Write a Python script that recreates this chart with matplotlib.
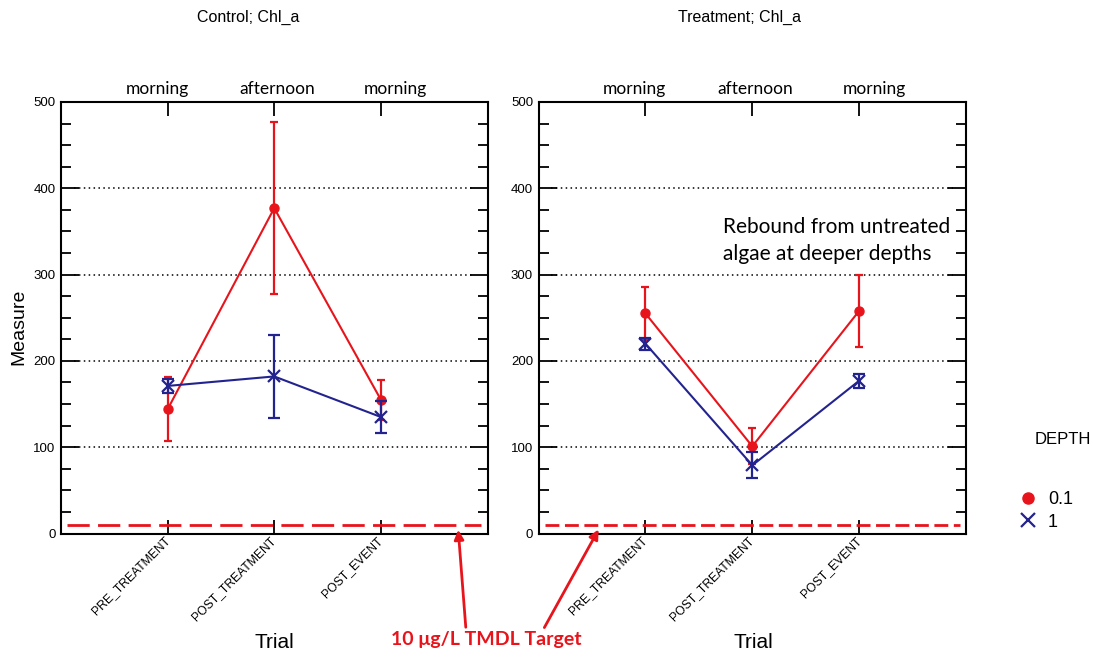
import matplotlib
matplotlib.use("Agg")
import matplotlib.pyplot as plt
from matplotlib.lines import Line2D
from matplotlib.patches import FancyArrowPatch
from matplotlib.ticker import MultipleLocator
import matplotlib.transforms as mtrans

# ---- data ----
categories = ['PRE_TREATMENT', 'POST_TREATMENT', 'POST_EVENT']
time_labels = ['morning', 'afternoon', 'morning']
panel_titles = ['Control; Chl_a', 'Treatment; Chl_a']

control_d01 = [144, 377, 155]
control_d01_err = [37, 100, 23]
control_d1 = [171, 182, 135]
control_d1_err = [8, 48, 19]

treat_d01 = [255, 101, 258]
treat_d01_err = [31, 21, 42]
treat_d1 = [220, 79, 177]
treat_d1_err = [7, 15, 8]

tmdl_target = 10
depth_labels = ['0.1', '1']

RED = '#e8141c'
BLUE = '#23238f'
NARROW = ['Liberation Sans Narrow', 'Liberation Sans', 'DejaVu Sans']
CAL = ['Lato', 'DejaVu Sans']

W, H = 1093, 666
fig = plt.figure(figsize=(W / 100, H / 100), dpi=100)

def fx(px):
    return px / W

def fy(py):
    return 1 - py / H

axes_px = [(61, 487.5), (538.6, 966)]
top_px, bot_px = 102, 533.5

panels = [
    (control_d01, control_d01_err, control_d1, control_d1_err, (8, 3)),
    (treat_d01, treat_d01_err, treat_d1, treat_d1_err, (5, 2)),
]
title_x = [248, 739]
trial_x = [274, 753.6]

for i, (l, r) in enumerate(axes_px):
    ax = fig.add_axes([fx(l), fy(bot_px), fx(r) - fx(l), (bot_px - top_px) / H])
    d01, e01, d1, e1, dash = panels[i]
    xs = list(range(len(categories)))

    ax.axhline(tmdl_target, xmin=0.015, xmax=0.985, color=RED, lw=2.0,
               linestyle=(0, dash), zorder=2)

    for y in [100, 200, 300, 400]:
        ax.plot([-0.88, 2.88], [y, y], color='black', lw=1.1,
                linestyle=(0, (1, 2.2)), zorder=1)

    ax.errorbar(xs, d01, yerr=e01, color=RED, marker='o', ms=6.5,
                lw=1.5, elinewidth=1.6, capsize=3, capthick=1.6, zorder=3)
    ax.errorbar(xs, d1, yerr=e1, color=BLUE, marker='x', ms=8, mew=1.6,
                lw=1.5, elinewidth=1.6, capsize=4, capthick=1.6, zorder=4)

    ax.set_xlim(-1, 3)
    ax.set_ylim(0, 500)

    ax.yaxis.set_major_locator(MultipleLocator(100))
    ax.yaxis.set_minor_locator(MultipleLocator(25))
    ax.tick_params(axis='y', which='major', direction='in', length=13, width=1.3,
                   left=True, right=True, labelsize=9.5, pad=4)
    ax.tick_params(axis='y', which='minor', direction='in', length=7, width=1.3,
                   left=True, right=True)
    for lab in ax.get_yticklabels():
        lab.set_family(NARROW)

    ax.set_xticks(xs)
    ax.set_xticklabels(categories, rotation=45, ha='right', va='center',
                       rotation_mode='anchor', fontsize=8.7, family=NARROW)
    offset = mtrans.ScaledTranslation(7 / 100, -8 / 100, fig.dpi_scale_trans)
    for lab in ax.get_xticklabels():
        lab.set_transform(lab.get_transform() + offset)
    ax.tick_params(axis='x', which='major', direction='in', length=10, width=1.3,
                   top=True, bottom=True, pad=4)

    for s in ax.spines.values():
        s.set_linewidth(1.5)

    for xpos, t in zip([-0.1, 1.03, 2.14], time_labels):
        ax.text(xpos, 1.012, t, transform=ax.get_xaxis_transform(),
                ha='center', va='bottom', fontsize=12.5, family=CAL)

    fig.text(fx(title_x[i]), fy(17), panel_titles[i], ha='center', va='center',
             fontsize=11.5, family=NARROW)
    fig.text(fx(trial_x[i]), fy(643), 'Trial',
             ha='center', va='center', fontsize=15, family=['Liberation Sans', 'DejaVu Sans'])

fig.text(fx(19), fy(327), 'Measure', rotation=90, ha='center', va='center',
         fontsize=14, family=['Liberation Sans', 'DejaVu Sans'])

fig.text(fx(723), fy(227), 'Rebound from untreated', ha='left', va='center',
         fontsize=15, family=CAL)
fig.text(fx(723), fy(254), 'algae at deeper depths', ha='left', va='center',
         fontsize=15, family=CAL)

fig.text(fx(391), fy(640), '10 \u03bcg/L TMDL Target', ha='left', va='center',
         fontsize=14, fontweight='bold', color=RED, family=CAL)

for tail, tip in [((466, 630), (458, 527)), ((543, 630), (600, 527))]:
    arr = FancyArrowPatch((fx(tail[0]), fy(tail[1])), (fx(tip[0]), fy(tip[1])),
                          transform=fig.transFigure, arrowstyle='-|>',
                          mutation_scale=14, color=RED, lw=2)
    fig.add_artist(arr)

# legend
fig.text(fx(1035), fy(440), 'DEPTH', ha='left', va='center', fontsize=12,
         family=NARROW)
handles = [Line2D([], [], color=RED, marker='o', ls='', ms=8),
           Line2D([], [], color=BLUE, marker='x', ls='', ms=10, mew=1.6)]
fig.legend(handles, depth_labels, loc='upper left', frameon=False,
           bbox_to_anchor=(fx(1012), fy(484)), handlelength=1.0,
           handletextpad=0.6, labelspacing=0.3, borderaxespad=0,
           prop={'family': ['Liberation Sans', 'DejaVu Sans'], 'size': 13})

fig.savefig('out.png', dpi=100)
